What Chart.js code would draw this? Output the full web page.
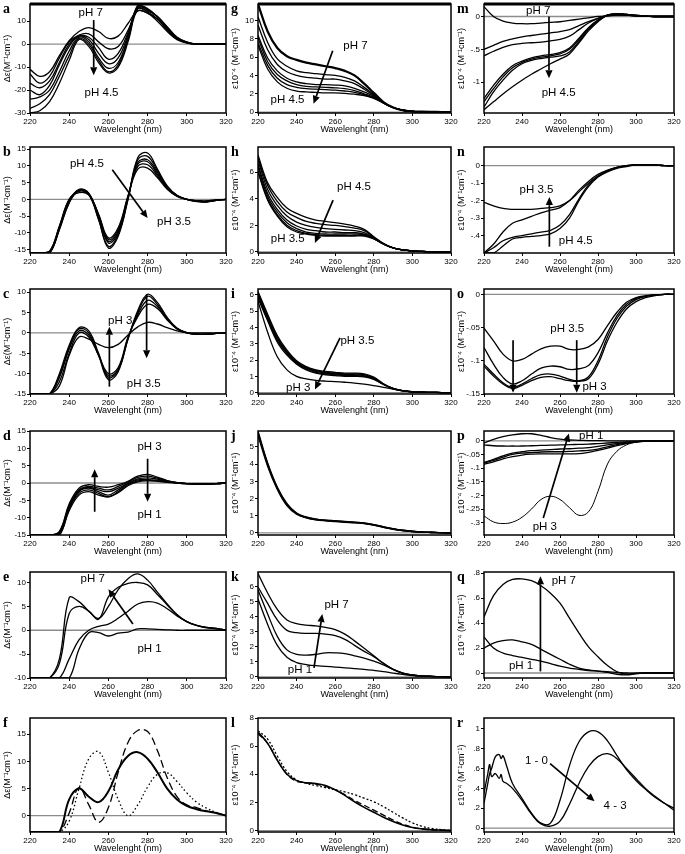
<!DOCTYPE html>
<html>
<head>
<meta charset="utf-8">
<script src="https://cdn.jsdelivr.net/npm/chart.js@4.4.1/dist/chart.umd.min.js"></script>
<style>
html,body{margin:0;padding:0;background:#fff;}
#fig{position:relative;width:685px;height:854px;overflow:hidden;background:#fff;}
.lt{position:absolute;font:bold 14px "Liberation Serif","Times New Roman",serif;color:#000;line-height:14px;}
</style>
</head>
<body>
<div id="fig"></div>
<script>
// ---------- shared axis data ----------
const wavelength = [220,225,230,235,240,245,250,255,260,265,270,275,280,285,290,295,300,305,310,315,320];
const wavelengthR = [220,222,223,224,226,228,229,230,232,235,240,245,250,255,260,265,270,275,280,285,290,295,300,305,310,315,320];
const xTicks = [220,240,260,280,300,320];

// ---------- panel a (CD, pH 7 -> 4.5) ----------
const a1 = [-11,-14,-12,-5,1.5,5.5,7.2,5.5,2.5,3.5,9,14.5,13.5,10,5.5,2,0.5,0,0,0,0];
const a2 = [-13,-17,-14,-6,1,4,4.5,1,-2,-1,6,14.5,13.5,11,6,2.3,0.6,0,0,0,0];
const a3 = [-17,-19,-16,-8,0,3.5,3,-1.5,-6.5,-4,5,15.5,14,11,6.5,2.5,0.7,0,0,0,0];
const a4 = [-20,-22,-18,-9,-1,3.5,2,-4,-8.5,-6,4,16.5,15,12,7,2.8,0.8,0,0,0,0];
const a5 = [-24,-23,-20,-12,-3,3,1,-6,-10.5,-8,3,17,15.5,12,7,2.8,0.8,0,0,0,0];
const a6 = [-28,-26,-22,-14,-5,2.5,0,-7,-12,-9,2,16,15,12,7.5,3,0.8,0,0,0,0];
const a7 = [-30,-29,-25,-17,-7,2,-1,-8,-12.5,-10,1,15.5,14.5,12,7.5,3,1,0,0,0,0];
const yTicksA = [-30,-20,-10,0,10];
const yLabelsA = ['-30','-20','-10','0','10'];

// ---------- panel b (pH 4.5 -> 3.5) ----------
const b1 = [-16,-16,-16,-9,-1,2.6,1.5,-6,-14.5,-11,0,12.5,13.8,9,4,1.2,0,-0.7,-0.8,-0.3,0];
const b2 = [-16,-16,-16,-9,-1,2.8,1.5,-6,-14,-10.5,0,11.8,12.8,8.5,3.8,1.2,0,-0.6,-0.8,-0.3,0];
const b3 = [-16,-16,-16,-8.5,-0.5,3,1.8,-5,-13,-10,0.5,11,11.8,8,3.5,1,0,-0.5,-0.7,-0.3,0];
const b4 = [-16,-16,-16,-8.5,-0.5,2.8,1.8,-5,-12.5,-9.5,0.5,10.5,11.2,7.5,3.3,1,0,-0.5,-0.6,-0.3,0];
const b5 = [-16,-16,-15.5,-8,0,2.4,1.5,-4.5,-12,-9,1,9.8,10.3,7,3.2,1,0,-0.4,-0.5,-0.2,0];
const b6 = [-16,-16,-15.5,-8,0,2,1.3,-4.5,-11.5,-8.5,1,9,9.3,6.5,3,0.9,0,-0.4,-0.5,-0.2,0];
const yTicksB = [-15,-10,-5,0,5,10,15];
const yLabelsB = ['-15','-10','-5','0','5','10','15'];

// ---------- panel c (pH 3.5 -> 3) ----------
const c1 = [-15,-15,-15,-10,-3,1.3,0.5,-5,-11,-9,-1.5,5.5,9.5,7.5,3.8,1.2,0.1,-0.3,-0.3,-0.1,0];
const c2 = [-15,-15,-15,-10.5,-3.5,1,0,-5.5,-11.5,-9.5,-1.5,5,9,7,3.6,1.1,0.1,-0.3,-0.3,-0.1,0];
const c3 = [-15,-15,-15,-11,-4,0.5,-0.5,-5.5,-10.5,-9,-1.2,4.5,8,6.5,3.4,1,0,-0.3,-0.3,-0.1,0];
const c4 = [-15,-15,-15,-12,-5,0,-1,-5.5,-10,-8.5,-1,4,7,6,3.2,1,0,-0.3,-0.3,-0.1,0];
const c5 = [-15,-15,-15,-13,-5.5,-1,-1.5,-2.8,-3.6,-2.8,-0.5,1.5,2.6,2.2,1.3,0.5,0.1,0,0,0,0];
const yTicksC = [-15,-10,-5,0,5,10];
const yLabelsC = ['-15','-10','-5','0','5','10'];

// ---------- panel d (pH 3 -> 1) ----------
const d1 = [-15,-15,-15,-14,-6,-1.5,-0.5,-1,-1.2,-0.5,0.5,2,2.5,1.7,0.7,0.1,-0.2,-0.3,-0.3,-0.2,0];
const d2 = [-15,-15,-15,-14,-6.5,-2,-1,-1.5,-2,-1,0.3,1.6,2,1.4,0.6,0.1,-0.2,-0.3,-0.3,-0.2,0];
const d3 = [-15,-15,-15,-14.5,-7,-2.3,-1.3,-2,-2.5,-1.5,0,1.2,1.5,1.1,0.5,0.1,-0.2,-0.3,-0.3,-0.2,0];
const d4 = [-15,-15,-15,-14.5,-7,-2.5,-1.5,-2.5,-3.5,-2,-0.2,0.9,1,0.8,0.4,0,-0.2,-0.3,-0.3,-0.2,0];
const d5 = [-15,-15,-15,-15,-7.5,-3,-2,-3,-4,-2.5,-0.5,0.6,0.8,0.6,0.3,0,-0.2,-0.3,-0.3,-0.2,0];
const d6 = [-15,-15,-15,-15,-8,-3.5,-2.5,-3.5,-4,-2.8,-0.8,0.3,0.6,0.5,0.2,0,-0.2,-0.3,-0.3,-0.2,0];
const yTicksD = [-15,-10,-5,0,5,10,15];
const yLabelsD = ['-15','-10','-5','0','5','10','15'];

// ---------- panel e (pH 1 -> 7) ----------
const e1 = [-10,-10,-10,-6,6.8,6,4,2.5,5,8.5,10.8,11.8,10.5,8,5.5,3.3,1.8,1,0.6,0.4,0];
const e2 = [-10,-10,-10,-7,3.5,5,4,2.3,7,9,9.8,10,9.5,7.5,5.3,3.2,1.8,1,0.6,0.4,0];
const e3 = [-10,-10,-10,-10,-6,-2,0,0.8,1.3,2.5,4,5.5,6,5.7,4.5,3,1.8,1,0.5,0.3,0];
const e4 = [-10,-10,-10,-10,-10,-4,-0.5,-0.5,-1.2,-0.6,-0.4,0.3,0.3,0.2,0.1,0,0,0,0,0,0];
const yTicksE = [-10,-5,0,5,10];
const yLabelsE = ['-10','-5','0','5','10'];

// ---------- panel f (comparison, solid / dashed / dotted) ----------
const f1 = [-3,-3,-3,-3,3,5,3.5,2.5,4.5,8.5,11,11.7,10.5,8,5,3,1.8,1.2,0.8,0.5,0];
const f2 = [-3,-3,-3,-3,0.5,5.2,2,-1.2,1.5,8,13.5,15.7,15.5,12,7,3.5,2,1.5,0.9,0.5,0];
const f3 = [-3,-3,-3,-3,-1,5,10.5,11.8,8,3,0,2,5.3,7.6,7.9,6.3,4.2,2.5,1.4,0.6,0];
const yTicksF = [0,5,10,15];
const yLabelsF = ['0','5','10','15'];

// ---------- panel g (UV, pH 7 -> 4.5) ----------
const g1 = [11.8,8.8,7.0,6.1,5.7,5.4,5.2,5.0,4.8,4.5,4.0,3.1,2.1,1.1,0.5,0.2,0.08,0.04,0.02,0.01,0];
const g2 = [10.4,7.6,5.8,5.0,4.5,4.3,4.2,4.1,4.0,3.8,3.4,2.7,1.9,1.0,0.5,0.2,0.08,0.04,0.02,0.01,0];
const g3 = [9.5,6.8,5.2,4.4,4.0,3.8,3.7,3.6,3.6,3.4,3.1,2.5,1.8,1.0,0.5,0.2,0.08,0.04,0.02,0.01,0];
const g4 = [8.4,5.9,4.5,3.7,3.3,3.1,3.0,3.0,2.95,2.85,2.6,2.2,1.7,1.0,0.5,0.2,0.08,0.04,0.02,0.01,0];
const g5 = [8.1,5.5,4.1,3.4,3.0,2.8,2.75,2.7,2.65,2.55,2.35,2.0,1.6,1.0,0.5,0.2,0.08,0.04,0.02,0.01,0];
const g6 = [7.6,5.1,3.7,3.0,2.7,2.55,2.5,2.45,2.4,2.3,2.15,1.9,1.55,1.0,0.5,0.2,0.08,0.04,0.02,0.01,0];
const g7 = [7.3,4.7,3.3,2.6,2.3,2.2,2.15,2.1,2.1,2.05,1.95,1.8,1.5,1.0,0.5,0.2,0.08,0.04,0.02,0.01,0];
const yTicksG = [0,2,4,6,8,10];
const yLabelsG = ['0','2','4','6','8','10'];

// ---------- panel h (pH 4.5 -> 3.5) ----------
const h1 = [7.3,5.2,4.1,3.3,2.9,2.6,2.4,2.3,2.2,2.1,1.95,1.7,1.15,0.65,0.3,0.15,0.07,0.04,0.02,0.01,0];
const h2 = [7.1,5.0,3.8,3.0,2.6,2.3,2.15,2.05,2.0,1.9,1.8,1.6,1.1,0.62,0.3,0.15,0.07,0.04,0.02,0.01,0];
const h3 = [6.9,4.7,3.5,2.7,2.25,2.0,1.85,1.75,1.7,1.65,1.6,1.45,1.05,0.6,0.3,0.15,0.07,0.04,0.02,0.01,0];
const h4 = [6.6,4.4,3.2,2.4,1.95,1.7,1.6,1.5,1.5,1.45,1.45,1.35,1.05,0.6,0.3,0.15,0.07,0.04,0.02,0.01,0];
const h5 = [6.4,4.2,3.0,2.2,1.75,1.5,1.4,1.35,1.35,1.35,1.35,1.3,1.0,0.6,0.3,0.15,0.07,0.04,0.02,0.01,0];
const h6 = [6.1,4.0,2.8,2.0,1.6,1.4,1.3,1.25,1.25,1.25,1.25,1.25,1.0,0.6,0.3,0.15,0.07,0.04,0.02,0.01,0];
const h7 = [6.0,3.9,2.7,1.9,1.5,1.35,1.25,1.2,1.2,1.2,1.2,1.2,0.98,0.6,0.3,0.15,0.07,0.04,0.02,0.01,0];
const yTicksH = [0,2,4,6];
const yLabelsH = ['0','2','4','6'];

// ---------- panel i (pH 3.5 -> 3) ----------
const i1 = [6.2,4.8,3.5,2.6,1.95,1.6,1.4,1.3,1.25,1.2,1.2,1.15,0.95,0.55,0.27,0.12,0.05,0.03,0.02,0.01,0];
const i2 = [6.1,4.7,3.4,2.5,1.9,1.55,1.35,1.25,1.2,1.15,1.15,1.1,0.9,0.53,0.26,0.12,0.05,0.03,0.02,0.01,0];
const i3 = [6.0,4.6,3.3,2.45,1.85,1.5,1.3,1.2,1.15,1.1,1.1,1.05,0.88,0.52,0.25,0.12,0.05,0.03,0.02,0.01,0];
const i4 = [5.9,4.5,3.2,2.4,1.8,1.45,1.25,1.15,1.1,1.05,1.05,1.0,0.85,0.5,0.25,0.12,0.05,0.03,0.02,0.01,0];
const i5 = [5.8,4.4,3.1,2.3,1.75,1.4,1.2,1.1,1.05,1.0,1.0,0.97,0.82,0.5,0.24,0.11,0.05,0.03,0.02,0.01,0];
const i6 = [5.6,3.7,2.2,1.4,1.0,0.85,0.76,0.71,0.68,0.64,0.59,0.52,0.43,0.33,0.22,0.13,0.06,0.03,0.02,0.01,0];
const yTicksI = [0,1,2,3,4,5,6];
const yLabelsI = ['0','1','2','3','4','5','6'];

// ---------- panel j (pH 3 -> 1) ----------
const j1 = [5.8,4.0,2.6,1.65,1.12,0.9,0.79,0.73,0.69,0.65,0.61,0.56,0.47,0.34,0.23,0.15,0.09,0.05,0.03,0.01,0];
const j2 = [5.7,3.9,2.55,1.6,1.1,0.88,0.77,0.71,0.67,0.63,0.6,0.55,0.46,0.33,0.22,0.14,0.08,0.05,0.03,0.01,0];
const j3 = [5.9,4.05,2.65,1.7,1.15,0.92,0.8,0.74,0.7,0.66,0.62,0.57,0.48,0.35,0.24,0.15,0.09,0.05,0.03,0.01,0];
const yTicksJ = [0,1,2,3,4,5];
const yLabelsJ = ['0','1','2','3','4','5'];

// ---------- panel k (pH 1 -> 7) ----------
const k1 = [6.9,5.6,4.5,3.8,3.55,3.45,3.4,3.3,3.15,2.85,2.4,1.9,1.4,0.9,0.5,0.25,0.12,0.06,0.03,0.01,0];
const k2 = [6.0,4.9,3.8,3.1,2.95,2.9,2.9,2.85,2.75,2.5,2.1,1.7,1.35,0.9,0.5,0.25,0.12,0.06,0.03,0.01,0];
const k3 = [5.8,4.2,2.7,1.8,1.5,1.45,1.5,1.6,1.6,1.55,1.4,1.25,1.05,0.8,0.5,0.25,0.12,0.06,0.03,0.01,0];
const k4 = [5.2,3.5,2.1,1.3,0.95,0.82,0.74,0.7,0.65,0.6,0.55,0.5,0.43,0.35,0.25,0.16,0.08,0.04,0.02,0.01,0];
const yTicksK = [0,1,2,3,4,5,6];
const yLabelsK = ['0','1','2','3','4','5','6'];

// ---------- panel l (comparison) ----------
const l1 = [7.0,6.2,5.0,4.0,3.55,3.4,3.35,3.2,2.9,2.5,2.05,1.65,1.3,0.95,0.65,0.4,0.22,0.12,0.06,0.03,0];
const l2 = [6.9,6.2,5.0,4.0,3.5,3.4,3.3,3.15,2.9,2.55,2.15,1.8,1.45,1.1,0.75,0.45,0.25,0.12,0.06,0.03,0];
const l3 = [7.1,6.5,5.3,4.2,3.6,3.35,3.2,3.05,2.9,2.75,2.55,2.3,2.05,1.7,1.3,0.9,0.55,0.3,0.15,0.07,0.03];
const yTicksL = [0,2,4,6,8];
const yLabelsL = ['0','2','4','6','8'];

// ---------- panel m (pH 7 -> 4.5) ----------
const m1 = [0.15,0.0,-0.07,-0.1,-0.11,-0.11,-0.1,-0.09,-0.08,-0.06,-0.04,-0.02,0.0,0.01,0.02,0.02,0.01,0.005,0,0,0];
const m2 = [-0.5,-0.44,-0.38,-0.34,-0.31,-0.29,-0.27,-0.25,-0.23,-0.2,-0.14,-0.08,-0.03,0.01,0.02,0.02,0.01,0.005,0,0,0];
const m3 = [-0.6,-0.53,-0.47,-0.43,-0.41,-0.4,-0.39,-0.37,-0.35,-0.3,-0.2,-0.1,-0.03,0.02,0.03,0.02,0.01,0.005,0,0,0];
const m4 = [-1.25,-1.05,-0.88,-0.75,-0.68,-0.63,-0.6,-0.58,-0.55,-0.48,-0.33,-0.17,-0.05,0.02,0.04,0.03,0.015,0.005,0,0,0];
const m5 = [-1.3,-1.1,-0.92,-0.78,-0.7,-0.65,-0.62,-0.6,-0.57,-0.5,-0.35,-0.18,-0.06,0.02,0.04,0.03,0.015,0.005,0,0,0];
const m6 = [-1.38,-1.15,-0.97,-0.82,-0.72,-0.67,-0.64,-0.62,-0.6,-0.54,-0.38,-0.2,-0.07,0.02,0.04,0.03,0.015,0.005,0,0,0];
const m7 = [-1.42,-1.3,-1.18,-1.07,-0.97,-0.88,-0.8,-0.72,-0.65,-0.57,-0.4,-0.22,-0.08,0.02,0.04,0.03,0.015,0.005,0,0,0];
const yTicksM = [-1,-0.5,0];
const yLabelsM = ['-1','-.5','0'];

// ---------- panel n (pH 4.5 -> 3.5) ----------
const n1 = [-0.21,-0.23,-0.245,-0.25,-0.25,-0.25,-0.245,-0.24,-0.23,-0.2,-0.15,-0.1,-0.06,-0.03,-0.01,0,0.005,0.005,0.005,0,0];
const n2 = [-0.5,-0.45,-0.38,-0.33,-0.31,-0.29,-0.27,-0.255,-0.24,-0.2,-0.14,-0.09,-0.05,-0.025,-0.01,0,0.005,0.005,0.005,0,0];
const n3 = [-0.5,-0.47,-0.43,-0.41,-0.4,-0.39,-0.38,-0.37,-0.34,-0.28,-0.19,-0.11,-0.06,-0.03,-0.01,0,0.005,0.005,0.005,0,0];
const n4 = [-0.5,-0.5,-0.46,-0.42,-0.41,-0.405,-0.4,-0.39,-0.36,-0.3,-0.2,-0.12,-0.065,-0.035,-0.015,-0.005,0.005,0.005,0.005,0,0];
const yTicksN = [-0.4,-0.3,-0.2,-0.1,0];
const yLabelsN = ['-.4','-.3','-.2','-.1','0'];

// ---------- panel o (pH 3.5 -> 3) ----------
const o1 = [-0.051,-0.07,-0.09,-0.1,-0.098,-0.09,-0.082,-0.078,-0.078,-0.083,-0.083,-0.079,-0.068,-0.047,-0.027,-0.012,-0.005,-0.002,-0.001,0,0];
const o2 = [-0.08,-0.105,-0.125,-0.135,-0.13,-0.12,-0.111,-0.108,-0.109,-0.113,-0.112,-0.107,-0.088,-0.058,-0.032,-0.015,-0.006,-0.003,-0.001,0,0];
const o3 = [-0.105,-0.12,-0.133,-0.14,-0.135,-0.127,-0.121,-0.12,-0.123,-0.128,-0.13,-0.124,-0.1,-0.064,-0.036,-0.018,-0.008,-0.003,-0.001,0,0];
const o4 = [-0.108,-0.123,-0.135,-0.142,-0.137,-0.13,-0.125,-0.124,-0.127,-0.13,-0.131,-0.127,-0.105,-0.07,-0.042,-0.022,-0.011,-0.005,-0.002,0,0];
const yTicksO = [-0.15,-0.1,-0.05,0];
const yLabelsO = ['-.15','-.1','-.05','0'];

// ---------- panel p (pH 3 -> 1) ----------
const p1 = [-0.008,0.005,0.015,0.022,0.026,0.026,0.02,0.012,0.006,0.003,0.002,0.001,0.001,0,0,0,0,0,0,0,0];
const p2 = [-0.015,-0.018,-0.019,-0.019,-0.019,-0.018,-0.017,-0.016,-0.015,-0.014,-0.013,-0.012,-0.01,-0.008,-0.006,-0.004,-0.002,0,0,0,0];
const p3 = [-0.08,-0.068,-0.055,-0.045,-0.04,-0.036,-0.034,-0.032,-0.03,-0.029,-0.027,-0.025,-0.02,-0.015,-0.01,-0.006,-0.003,0,0,0,0];
const p4 = [-0.082,-0.072,-0.06,-0.05,-0.045,-0.043,-0.041,-0.04,-0.04,-0.039,-0.037,-0.035,-0.03,-0.022,-0.014,-0.008,-0.004,-0.001,0,0,0];
const p5 = [-0.085,-0.077,-0.066,-0.058,-0.052,-0.049,-0.048,-0.048,-0.048,-0.048,-0.047,-0.042,-0.035,-0.027,-0.018,-0.01,-0.005,-0.002,0,0,0];
const p6 = [-0.275,-0.297,-0.303,-0.298,-0.28,-0.25,-0.215,-0.203,-0.215,-0.245,-0.273,-0.26,-0.185,-0.085,-0.038,-0.015,-0.005,-0.002,0,0,0];
const yTicksP = [-0.3,-0.25,-0.2,-0.15,-0.1,-0.05,0];
const yLabelsP = ['-.3','-.25','-.2','-.15','-.1','-.05','0'];

// ---------- panel q (pH 1 -> 7) ----------
const q1 = [0.45,0.62,0.71,0.75,0.755,0.74,0.7,0.64,0.56,0.44,0.32,0.21,0.13,0.06,0.01,-0.01,-0.005,0,0,0,0];
const q2 = [0.2,0.24,0.26,0.265,0.25,0.23,0.19,0.15,0.11,0.07,0.04,0.025,0.015,0.005,-0.01,-0.015,-0.005,0,0,0,0];
const q3 = [0.29,0.2,0.16,0.14,0.125,0.11,0.095,0.075,0.055,0.04,0.03,0.02,0.015,0.01,0.005,0,0,0,0,0,0];
const yTicksQ = [0,0.2,0.4,0.6,0.8];
const yLabelsQ = ['0','.2','.4','.6','.8'];

// ---------- panel r (1-0 / 4-3) ----------
const r1 = [0.25,0.45,0.55,0.6,0.72,0.74,0.7,0.73,0.62,0.45,0.3,0.15,0.05,0.05,0.28,0.63,0.87,0.97,0.97,0.88,0.73,0.59,0.48,0.39,0.31,0.25,0.2];
const r2 = [0.35,0.55,0.64,0.52,0.55,0.5,0.54,0.47,0.45,0.4,0.28,0.14,0.04,0.02,0.07,0.24,0.45,0.62,0.72,0.75,0.7,0.6,0.5,0.4,0.32,0.25,0.18];
const yTicksR = [0,0.2,0.4,0.6,0.8,1];
const yLabelsR = ['0','.2','.4','.6','.8','1'];

// ---------- layout (pixels) ----------
const COLS = [[30,226],[258,451],[484,674]];
const ROWS = [[4,113],[147,253],[289,394],[431,535],[572,678],[718,832]];
const YTITLE_CD = 'Δε(M⁻¹cm⁻¹)';
const YTITLE_UV = 'ε10⁻⁴ (M⁻¹cm⁻¹)';
const XTITLE = 'Wavelenght (nm)';
const FAMILY = '"Liberation Sans", Arial, Helvetica, sans-serif';

const panels = [
  {id:'a',col:0,row:0,x:wavelength,series:[a1,a2,a3,a4,a5,a6,a7],yMin:-30,yMax:17.5,yTicks:yTicksA,yLabels:yLabelsA,zero:true,topBorder:3,
   texts:[['pH 7',251,13.5],['pH 4.5',256.5,-21]],arrows:[[252.5,10.5,252.5,-13.5]]},
  {id:'b',col:0,row:1,x:wavelength,series:[b1,b2,b3,b4,b5,b6],yMin:-16,yMax:15.6,yTicks:yTicksB,yLabels:yLabelsB,zero:true,
   texts:[['pH 4.5',249,10.5],['pH 3.5',293.5,-6.6]],arrows:[[262,8.8,280,-5.6]]},
  {id:'c',col:0,row:2,x:wavelength,series:[c1,c2,c3,c4,c5],yMin:-15,yMax:10.8,yTicks:yTicksC,yLabels:yLabelsC,zero:true,
   texts:[['pH 3',266,3.1],['pH 3.5',278,-12.5]],arrows:[[260.5,-13.2,260.5,1.5],[279.5,9.5,279.5,-6.2]]},
  {id:'d',col:0,row:3,x:wavelength,series:[d1,d2,d3,d4,d5,d6],yMin:-15,yMax:15,yTicks:yTicksD,yLabels:yLabelsD,zero:true,
   texts:[['pH 3',281,10.3],['pH 1',281,-9.3]],arrows:[[253,-8.3,253,4],[280,7,280,-5.4]]},
  {id:'e',col:0,row:4,x:wavelength,series:[e1,e2,e3,e4],yMin:-10,yMax:12.2,yTicks:yTicksE,yLabels:yLabelsE,zero:true,
   texts:[['pH 7',252,10.8],['pH 1',281,-3.9]],arrows:[[272.5,1.3,260,8.6]]},
  {id:'f',col:0,row:5,x:wavelength,series:[f1,f2,f3],yMin:-3,yMax:18,yTicks:yTicksF,yLabels:yLabelsF,zero:true,
   widths:[2,1.3,1.3],dashes:[[],[8,4],[1.5,2.5]],texts:[],arrows:[]},
  {id:'g',col:1,row:0,x:wavelength,series:[g1,g2,g3,g4,g5,g6,g7],yMin:-0.1,yMax:11.8,yTicks:yTicksG,yLabels:yLabelsG,zero:true,uv:true,topBorder:3,
   widths:[2.2],texts:[['pH 7',270.5,7.2],['pH 4.5',235.3,1.3]],arrows:[[258.7,6.7,248.8,0.9]]},
  {id:'h',col:1,row:1,x:wavelength,series:[h1,h2,h3,h4,h5,h6,h7],yMin:-0.08,yMax:7.9,yTicks:yTicksH,yLabels:yLabelsH,zero:true,uv:true,
   texts:[['pH 4.5',269.7,4.9],['pH 3.5',235.4,1.0]],arrows:[[258.9,3.9,249.5,0.67]]},
  {id:'i',col:1,row:2,x:wavelength,series:[i1,i2,i3,i4,i5,i6],yMin:-0.08,yMax:6.35,yTicks:yTicksI,yLabels:yLabelsI,zero:true,uv:true,
   texts:[['pH 3.5',271.5,3.2],['pH 3',240.8,0.3]],arrows:[[262.5,3.35,249.5,0.2]]},
  {id:'j',col:1,row:3,x:wavelength,series:[j1,j2,j3],yMin:-0.12,yMax:5.93,yTicks:yTicksJ,yLabels:yLabelsJ,zero:true,uv:true,
   widths:[1.6,1.6,1.6],texts:[],arrows:[]},
  {id:'k',col:1,row:4,x:wavelength,series:[k1,k2,k3,k4],yMin:-0.08,yMax:7.0,yTicks:yTicksK,yLabels:yLabelsK,zero:true,uv:true,
   texts:[['pH 7',260.7,4.8],['pH 1',241.7,0.45]],arrows:[[249,0.6,253.3,4.2]]},
  {id:'l',col:1,row:5,x:wavelength,series:[l1,l2,l3],yMin:-0.1,yMax:8,yTicks:yTicksL,yLabels:yLabelsL,zero:true,uv:true,
   widths:[1.6,1.3,1.3],dashes:[[],[6,3],[2,2]],texts:[],arrows:[]},
  {id:'m',col:2,row:0,x:wavelength,series:[m1,m2,m3,m4,m5,m6,m7],yMin:-1.47,yMax:0.19,yTicks:yTicksM,yLabels:yLabelsM,zero:true,uv:true,topBorder:3,
   texts:[['pH 7',248.5,0.09],['pH 4.5',259.3,-1.17]],arrows:[[254.2,0,254.2,-0.94]]},
  {id:'n',col:2,row:1,x:wavelength,series:[n1,n2,n3,n4],yMin:-0.5,yMax:0.107,yTicks:yTicksN,yLabels:yLabelsN,zero:true,uv:true,
   texts:[['pH 3.5',247.6,-0.14],['pH 4.5',268.3,-0.43]],arrows:[[254.4,-0.464,254.4,-0.18]]},
  {id:'o',col:2,row:2,x:wavelength,series:[o1,o2,o3,o4],yMin:-0.15,yMax:0.008,yTicks:yTicksO,yLabels:yLabelsO,zero:true,uv:true,
   texts:[['pH 3.5',263.8,-0.052],['pH 3',278.2,-0.139]],arrows:[[235.3,-0.069,235.3,-0.148],[268.8,-0.069,268.8,-0.148]]},
  {id:'p',col:2,row:3,x:wavelength,series:[p1,p2,p3,p4,p5,p6],yMin:-0.345,yMax:0.036,yTicks:yTicksP,yLabels:yLabelsP,zero:true,uv:true,
   widths:[1.3,1.3,1.3,1.3,1.3,1],texts:[['pH 1',276.4,0.019],['pH 3',252,-0.315]],arrows:[[251.2,-0.283,264.7,0.027]]},
  {id:'q',col:2,row:4,x:wavelength,series:[q1,q2,q3],yMin:-0.04,yMax:0.81,yTicks:yTicksQ,yLabels:yLabelsQ,zero:true,uv:true,
   texts:[['pH 7',262,0.74],['pH 1',239.5,0.055]],arrows:[[249.7,0.013,249.7,0.775]]},
  {id:'r',col:2,row:5,x:wavelengthR,series:[r1,r2],yMin:-0.04,yMax:1.11,yTicks:yTicksR,yLabels:yLabelsR,zero:true,uv:true,
   texts:[['1 - 0',247.6,0.68],['4 - 3',289,0.22]],arrows:[[254.8,0.65,278.2,0.27]]}
];

function decoPlugin(p){
  return {
    id:'deco',
    beforeDatasetsDraw(chart){
      const {ctx, chartArea:a, scales:{y}} = chart;
      if (p.zero){
        const py = y.getPixelForValue(0);
        ctx.save();
        ctx.strokeStyle = '#8c8c8c'; ctx.lineWidth = 1.3;
        ctx.beginPath(); ctx.moveTo(a.left, py); ctx.lineTo(a.right, py); ctx.stroke();
        ctx.restore();
      }
    },
    afterDatasetsDraw(chart){
      const {ctx, chartArea:a, scales:{x, y}} = chart;
      ctx.save();
      ctx.strokeStyle = '#000'; ctx.fillStyle = '#000';
      ctx.lineWidth = 1.5;
      ctx.strokeRect(a.left, a.top, a.right - a.left, a.bottom - a.top);
      if (p.topBorder){
        ctx.lineWidth = p.topBorder;
        ctx.beginPath(); ctx.moveTo(a.left, a.top); ctx.lineTo(a.right, a.top); ctx.stroke();
      }
      (p.arrows||[]).forEach(ar => {
        const x1 = x.getPixelForValue(ar[0]), y1 = y.getPixelForValue(ar[1]);
        const x2 = x.getPixelForValue(ar[2]), y2 = y.getPixelForValue(ar[3]);
        const ang = Math.atan2(y2 - y1, x2 - x1);
        const hl = 8, hw = 3.6;
        const bx = x2 - hl * Math.cos(ang), by = y2 - hl * Math.sin(ang);
        ctx.lineWidth = 1.7;
        ctx.beginPath(); ctx.moveTo(x1, y1); ctx.lineTo(bx, by); ctx.stroke();
        ctx.beginPath();
        ctx.moveTo(x2, y2);
        ctx.lineTo(bx + hw * Math.sin(ang), by - hw * Math.cos(ang));
        ctx.lineTo(bx - hw * Math.sin(ang), by + hw * Math.cos(ang));
        ctx.closePath(); ctx.fill();
      });
      ctx.font = '11.5px ' + FAMILY;
      ctx.textAlign = 'center'; ctx.textBaseline = 'middle';
      (p.texts||[]).forEach(t => {
        ctx.fillText(t[0], x.getPixelForValue(t[1]), y.getPixelForValue(t[2]));
      });
      ctx.restore();
    }
  };
}

const YW = 30, PT = 6, PR = 12, XH = 22;
const fig = document.getElementById('fig');

panels.forEach(p => {
  const [L, R] = COLS[p.col];
  const [T, B] = ROWS[p.row];
  const w = (R - L) + YW + PR, h = (B - T) + PT + XH;
  const cv = document.createElement('canvas');
  cv.width = w; cv.height = h;
  cv.style.cssText = 'position:absolute;left:' + (L - YW) + 'px;top:' + (T - PT) + 'px;width:' + w + 'px;height:' + h + 'px;';
  fig.appendChild(cv);

  const lt = document.createElement('div');
  lt.className = 'lt';
  lt.textContent = p.id;
  lt.style.left = (L - 27) + 'px';
  lt.style.top = (T - 2) + 'px';
  fig.appendChild(lt);

  const datasets = p.series.map((s, k) => ({
    data: p.x.map((xv, i) => ({x: xv, y: s[i]})),
    borderColor: '#000',
    borderWidth: (p.widths && p.widths[k]) || 1.3,
    borderDash: (p.dashes && p.dashes[k]) || [],
    pointRadius: 0,
    fill: false,
    tension: 0.4,
    cubicInterpolationMode: 'default'
  }));

  new Chart(cv, {
    type: 'line',
    data: {datasets},
    options: {
      responsive: false,
      animation: false,
      devicePixelRatio: 1,
      events: [],
      layout: {padding: {left: 0, top: PT, right: PR, bottom: 0}},
      plugins: {legend: {display: false}, tooltip: {enabled: false}, title: {display: false}},
      scales: {
        x: {
          type: 'linear', min: 220, max: 320,
          afterBuildTicks: s => { s.ticks = xTicks.map(v => ({value: v})); },
          afterFit: s => { s.height = XH; },
          ticks: {font: {size: 8, family: FAMILY}, color: '#000', padding: 1, maxRotation: 0, autoSkip: false, callback: v => String(v)},
          grid: {drawOnChartArea: false, drawTicks: true, tickLength: 3, color: '#000', lineWidth: 1},
          border: {display: false},
          title: {display: true, text: XTITLE, color: '#000', font: {size: 9, family: FAMILY}, padding: {top: 0, bottom: 0}}
        },
        y: {
          type: 'linear', min: p.yMin, max: p.yMax,
          afterBuildTicks: s => { s.ticks = p.yTicks.map(v => ({value: v})); },
          afterFit: s => { s.width = YW; },
          ticks: {font: {size: 8, family: FAMILY}, color: '#000', padding: 1, autoSkip: false,
                  callback: v => { const k = p.yTicks.indexOf(v); return k >= 0 ? p.yLabels[k] : ''; }},
          grid: {drawOnChartArea: false, drawTicks: true, tickLength: 3, color: '#000', lineWidth: 1},
          border: {display: false},
          title: {display: true, text: p.uv ? YTITLE_UV : YTITLE_CD, color: '#000', font: {size: 9, family: FAMILY}, padding: {top: 2, bottom: 0}}
        }
      }
    },
    plugins: [decoPlugin(p)]
  });
});
</script>
</body>
</html>
